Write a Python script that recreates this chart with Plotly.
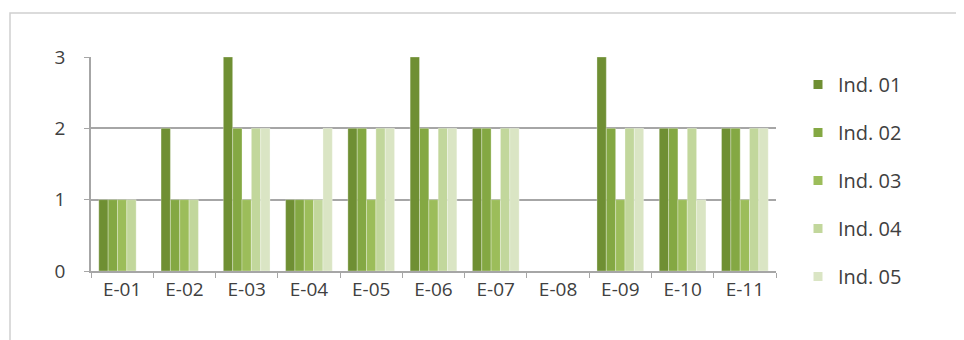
import plotly.graph_objects as go

categories = ["E-01", "E-02", "E-03", "E-04", "E-05", "E-06", "E-07", "E-08", "E-09", "E-10", "E-11"]
series_names = ["Ind. 01", "Ind. 02", "Ind. 03", "Ind. 04", "Ind. 05"]
ind01 = [1, 2, 3, 1, 2, 3, 2, 0, 3, 2, 2]
ind02 = [1, 1, 2, 1, 2, 2, 2, 0, 2, 2, 2]
ind03 = [1, 1, 1, 1, 1, 1, 1, 0, 1, 1, 1]
ind04 = [1, 1, 2, 1, 2, 2, 2, 0, 2, 2, 2]
ind05 = [0, 0, 2, 2, 2, 2, 2, 0, 2, 1, 2]
y_ticks = [0, 1, 2, 3]

colors = ["#6F8F33", "#84A843", "#9CBD5A", "#C2D79C", "#DAE5C4"]
values = [ind01, ind02, ind03, ind04, ind05]

fig = go.Figure()
for i, (name, vals) in enumerate(zip(series_names, values)):
    fig.add_trace(go.Bar(
        x=categories, y=vals, name=name, showlegend=False,
        marker=dict(color=colors[i], line=dict(width=0.5, color="rgba(255,255,255,0.6)")),
    ))
for i, name in enumerate(series_names):
    fig.add_trace(go.Scatter(
        x=[None], y=[None], mode="markers", name=name, legendgroup=f"g{i}",
        marker=dict(symbol="square", size=9, color=colors[i]),
    ))

OFF = 8  # page body offset
W, H = 964, 340
# desired plot area in screen pixels
SX0, SX1, SY0, SY1 = 91, 776, 57, 271
L, R = SX0 - OFF, W - (SX1 - OFF)
T, B = SY0 - OFF, H - (SY1 - OFF)
pw, ph = SX1 - SX0, SY1 - SY0

def px_x(p):
    return (p - SX0) / pw

def px_y(p):
    return (SY1 - p) / ph

fig.add_shape(type="rect", xref="paper", yref="paper",
              x0=px_x(10), x1=px_x(975), y0=px_y(360), y1=px_y(13),
              line=dict(color="#D0D0D0", width=1.5), fillcolor="rgba(0,0,0,0)", layer="below")

fig.update_layout(
    width=W, height=H,
    margin=dict(l=L, r=R, t=T, b=B),
    paper_bgcolor="white", plot_bgcolor="white",
    barmode="group", bargap=0.25, bargroupgap=0,
    font=dict(family="Open Sans, DejaVu Sans, sans-serif", size=19, color="#404040"),
    showlegend=True,
    legend=dict(x=px_x(798), y=px_y(65), xanchor="left", yanchor="top",
                tracegroupgap=19, font=dict(size=20, color="#404040"),
                itemsizing="trace", bgcolor="rgba(0,0,0,0)", maxheight=330),
)
fig.update_xaxes(
    showgrid=False, showline=True, linecolor="#A6A6A6", linewidth=1.5,
    ticks="outside", tickson="boundaries", ticklen=5, tickcolor="#A6A6A6",
    tickfont=dict(size=19, color="#404040"),
)
fig.update_yaxes(
    range=[0, 3], tickvals=y_ticks, showgrid=True, gridcolor="#A6A6A6", gridwidth=1.5,
    showline=True, linecolor="#A6A6A6", linewidth=1.5, zeroline=False,
    ticks="outside", ticklen=5, tickcolor="#A6A6A6",
    tickfont=dict(size=19, color="#404040"), ticklabelstandoff=15,
)

fig.write_html("out.html")
